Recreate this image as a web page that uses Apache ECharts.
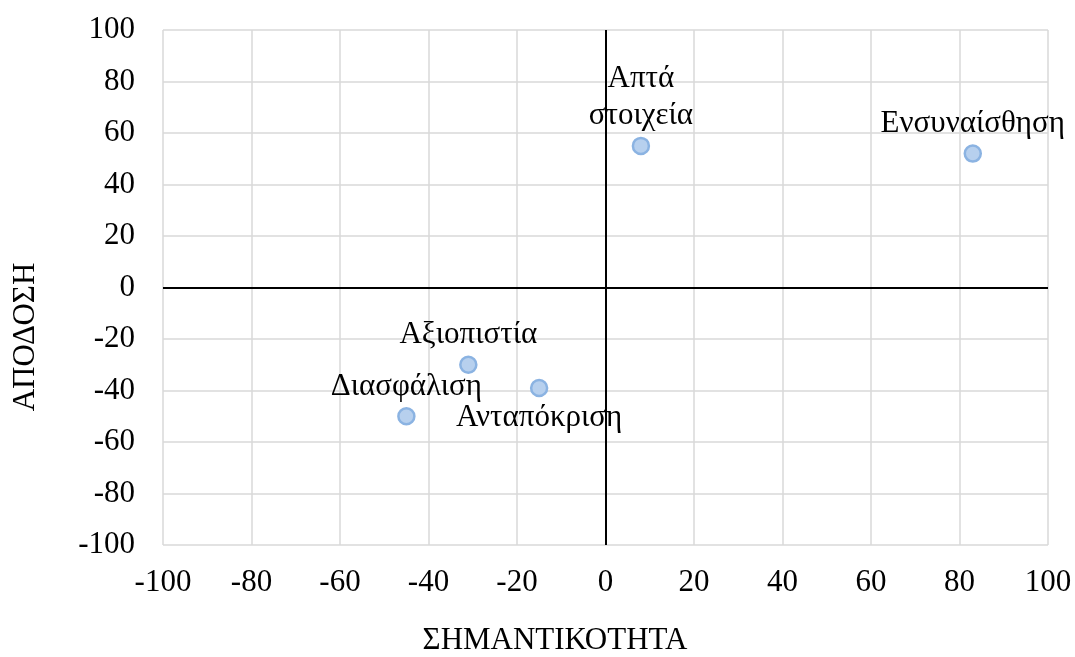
<!DOCTYPE html>
<html>
<head>
<meta charset="utf-8">
<script src="https://cdn.jsdelivr.net/npm/echarts@6/dist/echarts.min.js"></script>
<style>
  html, body { margin: 0; padding: 0; background: #fff; }
  #chart { width: 1075px; height: 657px; }
</style>
</head>
<body>
<div id="chart"></div>
<script>
// Service-quality dimensions: importance (x) vs. performance (y)
const dimensions = ['Απτά\nστοιχεία', 'Ενσυναίσθηση', 'Αξιοπιστία', 'Ανταπόκριση', 'Διασφάλιση'];
const importance = [8, 83, -31, -15, -45];
const performance = [55, 52, -30, -39, -50];
const xTitle = 'ΣΗΜΑΝΤΙΚΟΤΗΤΑ';
const yTitle = 'ΑΠΟΔΟΣΗ';

// where each label sits relative to its marker
const labelSide = ['top', 'top', 'top', 'bottom', 'top'];

const FONT = '"Liberation Serif", "Times New Roman", serif';
const FS = 31;

const points = dimensions.map((name, i) => ({
  name: name,
  value: [importance[i], performance[i]],
  label: { position: labelSide[i] }
}));

const chart = echarts.init(document.getElementById('chart'));
chart.setOption({
  animation: false,
  backgroundColor: '#ffffff',
  grid: { left: 163, right: 27, top: 30, bottom: 112 },
  xAxis: {
    type: 'value', min: -100, max: 100, interval: 20,
    axisLine: { show: false }, axisTick: { show: false },
    axisLabel: { color: '#000', fontFamily: FONT, fontSize: FS, margin: 22 },
    splitLine: { show: true, lineStyle: { color: '#d9d9d9', width: 1.5 } }
  },
  yAxis: {
    type: 'value', min: -100, max: 100, interval: 20,
    axisLine: { show: false }, axisTick: { show: false },
    axisLabel: { color: '#000', fontFamily: FONT, fontSize: FS, margin: 28 },
    splitLine: { show: true, lineStyle: { color: '#d9d9d9', width: 1.5 } }
  },
  graphic: [
    {
      type: 'text', x: 555, y: 641,
      style: { text: xTitle, fill: '#000', font: FS + 'px ' + FONT, align: 'center', verticalAlign: 'middle' }
    },
    {
      type: 'text', x: 26, y: 337, rotation: Math.PI / 2,
      style: { text: yTitle, fill: '#000', font: FS + 'px ' + FONT, align: 'center', verticalAlign: 'middle' }
    }
  ],
  series: [{
    type: 'scatter',
    data: points,
    symbol: 'circle',
    symbolSize: 16,
    itemStyle: { color: '#b7d0ee', borderColor: '#8bb3e2', borderWidth: 2.5, opacity: 1 },
    label: {
      show: true,
      formatter: p => p.name,
      color: '#000',
      textBorderWidth: 0,
      fontFamily: FONT,
      fontSize: FS,
      lineHeight: 37,
      align: 'center',
      distance: 2
    },
    markLine: {
      silent: true,
      symbol: 'none',
      label: { show: false },
      lineStyle: { color: '#000', width: 2, type: 'solid' },
      data: [{ xAxis: 0 }, { yAxis: 0 }]
    }
  }]
});
</script>
</body>
</html>
